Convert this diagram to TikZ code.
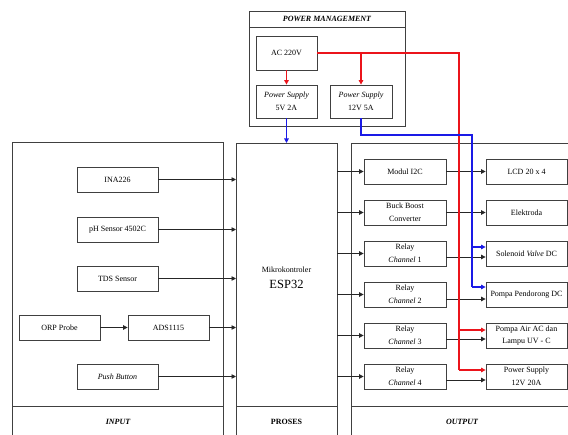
\documentclass[tikz,border=0pt]{standalone}
\usepackage{fontspec}
\setmainfont{Liberation Serif}
\usetikzlibrary{arrows.meta}
\definecolor{ln}{HTML}{404040}
\definecolor{rd}{RGB}{235,20,27}
\definecolor{bl}{RGB}{26,26,230}
\tikzset{
  box/.style={draw=ln, line width=0.8pt, inner sep=0pt, align=center, font=\fontsize{8}{12.5}\selectfont},
  panel/.style={draw=ln, line width=0.9pt},
  arr/.style={-{Triangle[length=4.5pt,width=4.5pt]}, line width=0.8pt, draw=black!85},
  rline/.style={line width=1.3pt, color=rd},
  bline/.style={line width=1.3pt, color=bl},
  rarr/.style={-{Triangle[length=4.5pt,width=4.5pt]}, line width=1.3pt, color=rd},
  barr/.style={-{Triangle[length=4.5pt,width=4.5pt]}, line width=1.3pt, color=bl},
  ttl/.style={font=\fontsize{8}{9}\selectfont\bfseries\itshape}
}
\begin{document}
\begin{tikzpicture}[x=1pt,y=-1pt]
\useasboundingbox (0,0) rectangle (568,435);
\fill[white] (0,0) rectangle (568,435);
% panels
\draw[panel] (249,11) rectangle (405,126);
\draw[panel] (249,27) -- (405,27);
\node[ttl] (pmt) at (327,19) {POWER MANAGEMENT};
\draw[panel] (12,142) rectangle (223,445);
\draw[panel] (12,406) -- (223,406);
\node[ttl] (int) at (118,422) {INPUT};
\draw[panel] (236,143) rectangle (337,445);
\draw[panel] (236,406) -- (337,406);
\node[font=\fontsize{8}{9}\selectfont\bfseries] (prt) at (286.5,422) {PROSES};
\draw[panel] (351,143) rectangle (580,445);
\draw[panel] (351,406) -- (580,406);
\node[ttl] (outt) at (462,422) {OUTPUT};
% power boxes
\node[box, minimum width=61pt, minimum height=34pt] (ac) at (286.5,53) {AC 220V};
\node[box, minimum width=61pt, minimum height=33pt] (ps5) at (286.5,101.5) {\textit{Power Supply}\\5V 2A};
\node[box, minimum width=62pt, minimum height=33pt] (ps12) at (361,101.5) {\textit{Power Supply}\\12V 5A};
% esp
\coordinate (esptop) at (286.5,143);
\node[font=\fontsize{8}{9}\selectfont] (espa) at (286.5,270) {Mikrokontroler};
\node[font=\fontsize{12.5}{13}\selectfont] (espb) at (286.5,284) {ESP32};
% inputs
\tikzset{ibox/.style={box, minimum width=81pt, minimum height=25pt}}
\node[ibox] (ina) at (117.5,179.5) {INA226};
\node[ibox] (ph) at (117.5,229.5) {pH Sensor 4502C};
\node[ibox] (tds) at (117.5,278.5) {TDS Sensor};
\node[ibox] (orp) at (59.5,327.5) {ORP Probe};
\node[ibox] (ads) at (168.5,327.5) {ADS1115};
\node[ibox] (pb) at (117.5,376.5) {\textit{Push Button}};
\foreach \n/\y in {ina/179.5, ph/229.5, tds/278.5, ads/327.5, pb/376.5}{
  \coordinate (in\n) at (236,\y);
  \draw[arr] (\n.east) -- (in\n);
}
\draw[arr] (orp) -- (ads);
% outputs
\tikzset{obox/.style={box, minimum width=82pt, minimum height=25pt},
         rbox/.style={box, minimum width=81pt, minimum height=25pt}}
\node[obox] (i2c) at (405,171.5) {Modul I2C};
\node[obox] (buck) at (405,212.5) {Buck Boost\\Converter};
\node[obox] (r1) at (405,253.5) {Relay\\\textit{Channel} 1};
\node[obox] (r2) at (405,294.5) {Relay\\\textit{Channel} 2};
\node[obox] (r3) at (405,335.5) {Relay\\\textit{Channel} 3};
\node[obox] (r4) at (405,376.5) {Relay\\\textit{Channel} 4};
\node[rbox] (lcd) at (526.5,171.5) {LCD 20 x 4};
\node[rbox] (ele) at (526.5,212.5) {Elektroda};
\node[rbox] (sol) at (526.5,253.5) {Solenoid \textit{Valve} DC};
\node[rbox] (pp) at (526.5,294.5) {Pompa Pendorong DC};
\node[rbox] (pa) at (526.5,335.5) {Pompa Air AC dan\\Lampu UV - C};
\node[rbox] (ps20) at (526.5,376.5) {Power Supply\\12V 20A};
\foreach \n/\y in {i2c/171.5, buck/212.5, r1/253.5, r2/294.5, r3/335.5, r4/376.5}{
  \coordinate (out\n) at (337,\y);
  \draw[arr] (out\n) -- (\n.west);
}
\draw[arr] (i2c) -- (lcd);
\draw[arr] (buck) -- (ele);
\draw[arr] ([yshift=-3.5pt]r1.east) -- ([yshift=-3.5pt]sol.west);
\draw[arr] ([yshift=-4.5pt]r2.east) -- ([yshift=-4.5pt]pp.west);
\draw[arr] ([yshift=-3.5pt]r3.east) -- ([yshift=-3.5pt]pa.west);
\draw[arr] ([yshift=-3.5pt]r4.east) -- ([yshift=-3.5pt]ps20.west);
% red power lines
\coordinate (rj) at (459,53);
\coordinate (rb) at (459,370);
\draw[rline] (ac.east) -- (rj) -- (rb);
\draw[rarr] (ac.south) -- (ps5.north);
\draw[rarr] (361,53) -- (ps12.north);
\draw[rarr] (459,330) -- ([yshift=5.5pt]pa.west);
\draw[rarr] (rb) -- ([yshift=6.5pt]ps20.west);
% blue lines
\coordinate (bj) at (472,135);
\coordinate (bb) at (472,287);
\draw[barr] (ps5.south) -- (esptop);
\draw[bline] (ps12.south) |- (bj) -- (bb);
\draw[barr] (472,247) -- ([yshift=6.5pt]sol.west);
\draw[barr] (bb) -- ([yshift=7.5pt]pp.west);
\end{tikzpicture}
\end{document}
